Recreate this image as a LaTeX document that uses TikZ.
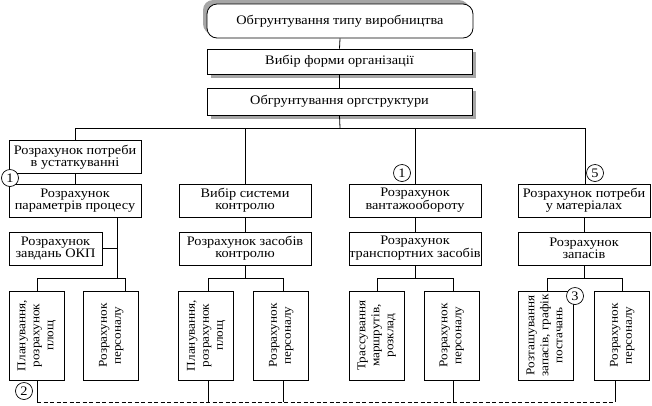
\documentclass[tikz,border=0pt]{standalone}
\usepackage{fontspec}
\setmainfont[FakeStretch=1.1]{Liberation Serif}
\usepackage{graphicx}
\newcommand{\vlines}[1]{\rotatebox{90}{\fontsize{12}{14}\selectfont\begin{tabular}{@{}c@{}}#1\end{tabular}}}
\begin{document}
\begin{tikzpicture}[x=1pt,y=-1pt,
  every node/.style={font=\fontsize{13}{11.8}\selectfont},
  box/.style={draw,line width=0.8pt,fill=white,align=center,inner sep=0pt,
    minimum width=#1,minimum height=33pt},
  box/.default=132pt,
  vbox/.style={draw,line width=0.8pt,fill=white,inner sep=0pt,
    minimum width=55pt,minimum height=89pt},
  hbox/.style={draw,line width=0.8pt,fill=white,inner sep=0pt,
    minimum width=265pt},
  num/.style={draw,circle,fill=white,line width=0.7pt,inner sep=0pt,minimum size=17pt},
  ln/.style={line width=0.8pt},
  dl/.style={line width=0.8pt,dash pattern=on 4pt off 2.5pt}]
\useasboundingbox (0,0) rectangle (652,405);
% top rows
\fill[gray!70,rounded corners=10pt] (203,0) rectangle (469,34);
\node[hbox,minimum width=266pt,minimum height=34pt,rounded corners=10pt] (t1) at (340,21) {Обгрунтування типу виробництва};
\fill[gray!70] (210.5,52) rectangle (475.5,77.5);
\node[hbox,minimum height=25pt] (t2) at (339.5,61.5) {Вибір форми організації};
\fill[gray!70] (210.5,91) rectangle (475.5,118.5);
\node[hbox,minimum height=27pt] (t3) at (339.5,101.5) {Обгрунтування оргструктури};
\draw[ln] (t1.south) -- (t2.north);
\draw[ln] (t2.south) -- (t3.north);
% column boxes
\node[box] (a1) at (75,157) {Розрахунок потреби\\в устаткуванні};
\node[box] (a2) at (75,200.5) {Розрахунок\\параметрів процесу};
\node[box=93pt] (a3) at (55.5,248.5) {Розрахунок\\завдань ОКП};
\node[box] (b1) at (245,200.5) {Вибір системи\\контролю};
\node[box] (b2) at (245,248.5) {Розрахунок засобів\\контролю};
\node[box] (c1) at (415,200.5) {Розрахунок\\вантажообороту};
\node[box] (c2) at (415,248.5) {Розрахунок\\транспортних засобів};
\node[box] (d1) at (584,200.5) {Розрахунок потреби\\у матеріалах};
\node[box] (d2) at (584,248.5) {Розрахунок\\запасів};
% bottom boxes
\node[vbox] (a4) at (36.5,335.5) {\vlines{Планування,\\розрахунок\\площ}};
\node[vbox] (a5) at (111,335.5) {\vlines{Розрахунок\\персоналу}};
\node[vbox] (b4) at (206,335.5) {\vlines{Планування,\\розрахунок\\площ}};
\node[vbox] (b5) at (281,335.5) {\vlines{Розрахунок\\персоналу}};
\node[vbox] (c4) at (376.5,335.5) {\vlines{Трассування\\маршрутів,\\розклад}};
\node[vbox] (c5) at (451.5,335.5) {\vlines{Розрахунок\\персоналу}};
\node[vbox] (d4) at (545.5,335.5) {\vlines{Розташування\\запасів, графік\\постачань}};
\node[vbox] (d5) at (622,335.5) {\vlines{Розрахунок\\персоналу}};
% bus from org structure
\coordinate (bus) at (340,128);
\draw[ln] (t3.south) -- (bus);
\draw[ln] (75,128) -- (585,128);
\draw[ln] (75,128) -- (a1.north);
\draw[ln] (245,128) -- (b1.north);
\draw[ln] (415,128) -- (c1.north);
\draw[ln] (585,128) -- (585,184);
% column 1
\draw[ln] (a1.south) -- (a2.north);
\draw[ln] (117,217) -- (117,278);
\draw[ln] (a3.east) -- (117,248.5);
\draw[ln] (37,278) -- (125,278);
\draw[ln] (37,278) -- (37,291);
\draw[ln] (125,278) -- (125,291);
% column 2
\draw[ln] (b1.south) -- (b2.north);
\draw[ln] (b2.south) -- (245,278);
\draw[ln] (208,278) -- (283,278);
\draw[ln] (208,278) -- (208,291);
\draw[ln] (283,278) -- (283,291);
% column 3
\draw[ln] (c1.south) -- (c2.north);
\draw[ln] (c2.south) -- (415,278);
\draw[ln] (377,278) -- (453,278);
\draw[ln] (377,278) -- (377,291);
\draw[ln] (453,278) -- (453,291);
% column 4
\draw[ln] (d1.south) -- (d2.north);
\draw[ln] (d2.south) -- (584,278);
\draw[ln] (547,278) -- (622,278);
\draw[ln] (547,278) -- (547,291);
\draw[ln] (622,278) -- (622,291);
% bottom links
\draw[ln] (37,380) -- (37,402);
\draw[ln] (208,380) -- (208,402);
\draw[ln] (283,380) -- (283,402);
\draw[ln] (453,380) -- (453,402);
\draw[ln] (615,380) -- (615,402);
\draw[dl] (37,402) -- (615,402);
% numbered circles
\node[num] (n1) at (10,178) {1};
\node[num] (n2) at (24,391) {2};
\node[num] (n3) at (575,296) {3};
\node[num] (n4) at (402,173) {1};
\node[num] (n5) at (595,173) {5};
\end{tikzpicture}
\end{document}
